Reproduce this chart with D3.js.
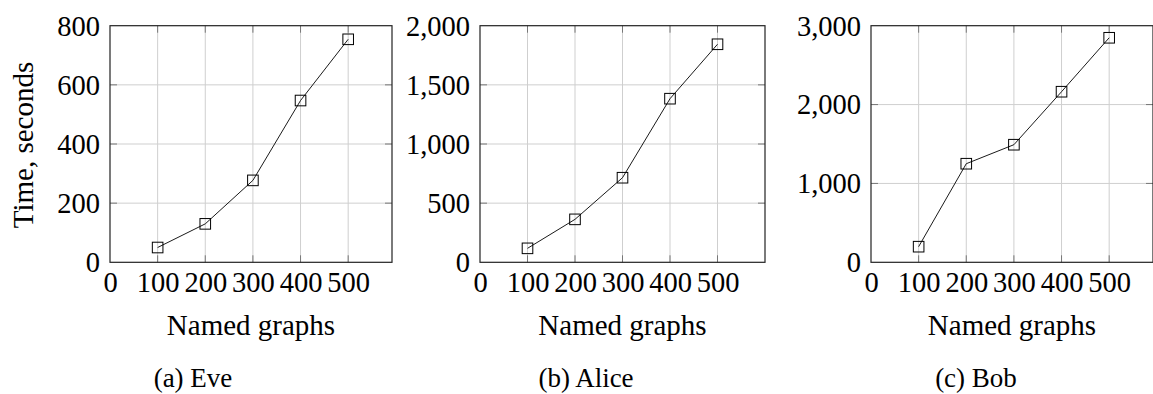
<!DOCTYPE html>
<html>
<head>
<meta charset="utf-8">
<script src="https://cdn.jsdelivr.net/npm/d3@7"></script>
<style>
  body { margin: 0; background: #fff; }
  text { font-family: "Liberation Serif", "Times New Roman", serif; fill: #000; }
</style>
</head>
<body>
<svg id="chart" width="1153" height="394"></svg>
<script>
// data
var graphs = [100, 200, 300, 400, 500];
var eveTimes = [50, 130, 277, 547, 754];
var aliceTimes = [118, 363, 715, 1383, 1843];
var bobTimes = [198, 1250, 1491, 2163, 2847];

var xTicks = [0, 100, 200, 300, 400, 500];
var eveTicks = [0, 200, 400, 600, 800];
var aliceTicks = [0, 500, 1000, 1500, 2000];
var bobTicks = [0, 1000, 2000, 3000];
var captions = ['(a) Eve', '(b) Alice', '(c) Bob'];

var panels = [
  {vals: eveTimes, yt: eveTicks, x0: 110, x1: 392, xmax: 592, cap: 193},
  {vals: aliceTimes, yt: aliceTicks, x0: 480, x1: 765, xmax: 600, cap: 586},
  {vals: bobTimes, yt: bobTicks, x0: 871, x1: 1153, xmax: 592, cap: 976}
];

var yTop = 25.7, yBot = 262.3, tick = 7;
var svg = d3.select('#chart');
var fmt = d3.format(',');

panels.forEach(function(p, i) {
  var x = d3.scaleLinear().domain([0, p.xmax]).range([p.x0, p.x1]);
  var y = d3.scaleLinear().domain([0, d3.max(p.yt)]).range([yBot, yTop]);
  var g = svg.append('g');

  // grid
  g.selectAll('.vg').data(xTicks.slice(1)).enter().append('line')
    .attr('x1', d => x(d)).attr('x2', d => x(d)).attr('y1', yTop).attr('y2', yBot)
    .attr('stroke', '#cfcfcf').attr('stroke-width', 1);
  g.selectAll('.hg').data(p.yt.slice(1, -1)).enter().append('line')
    .attr('x1', p.x0).attr('x2', p.x1).attr('y1', d => y(d)).attr('y2', d => y(d))
    .attr('stroke', '#cfcfcf').attr('stroke-width', 1);

  // inward tick marks on all sides
  xTicks.slice(1).forEach(function(d) {
    g.append('line').attr('x1', x(d)).attr('x2', x(d)).attr('y1', yBot).attr('y2', yBot - tick)
      .attr('stroke', '#777');
    g.append('line').attr('x1', x(d)).attr('x2', x(d)).attr('y1', yTop).attr('y2', yTop + tick)
      .attr('stroke', '#777');
  });
  p.yt.slice(1, -1).forEach(function(d) {
    g.append('line').attr('x1', p.x0).attr('x2', p.x0 + tick).attr('y1', y(d)).attr('y2', y(d))
      .attr('stroke', '#777');
    g.append('line').attr('x1', p.x1).attr('x2', p.x1 - tick).attr('y1', y(d)).attr('y2', y(d))
      .attr('stroke', '#777');
  });

  // frame
  g.append('rect').attr('x', p.x0).attr('y', yTop).attr('width', p.x1 - p.x0).attr('height', yBot - yTop)
    .attr('fill', 'none').attr('stroke', '#222').attr('stroke-width', 1.2);

  // axes (labels only)
  var xa = d3.axisBottom(x).tickValues(xTicks).tickSize(0).tickPadding(0);
  var gx = g.append('g').attr('transform', `translate(0,${yBot})`).call(xa);
  gx.select('.domain').remove();
  gx.selectAll('text').attr('font-size', 28.5).attr('dy', null).attr('y', 29.5)
    .style('font-family', '"Liberation Serif", serif');

  var ya = d3.axisLeft(y).tickValues(p.yt).tickSize(0).tickPadding(0).tickFormat(fmt);
  var gy = g.append('g').attr('transform', `translate(${p.x0 - 10},0)`).call(ya);
  gy.select('.domain').remove();
  gy.selectAll('text').attr('font-size', 28.5).attr('dy', '0.33em').attr('x', 0)
    .style('font-family', '"Liberation Serif", serif');

  // line + square marks
  var pts = graphs.map((d, k) => [d, p.vals[k]]);
  g.append('path').datum(pts)
    .attr('d', d3.line().x(d => x(d[0])).y(d => y(d[1])))
    .attr('fill', 'none').attr('stroke', '#000').attr('stroke-width', 0.9);
  g.selectAll('.mk').data(pts).enter().append('rect')
    .attr('x', d => x(d[0]) - 5.3).attr('y', d => y(d[1]) - 5.3)
    .attr('width', 10.6).attr('height', 10.6)
    .attr('fill', 'none').attr('stroke', '#000').attr('stroke-width', 1);

  // titles
  g.append('text').attr('x', (p.x0 + p.x1) / 2).attr('y', 335).attr('text-anchor', 'middle')
    .attr('font-size', 29).text('Named graphs');
  g.append('text').attr('x', p.cap).attr('y', 387).attr('text-anchor', 'middle')
    .attr('font-size', 27).text(captions[i]);
});

svg.append('text').attr('transform', 'translate(33,145) rotate(-90)').attr('text-anchor', 'middle')
  .attr('font-size', 29).text('Time, seconds');
</script>
</body>
</html>
